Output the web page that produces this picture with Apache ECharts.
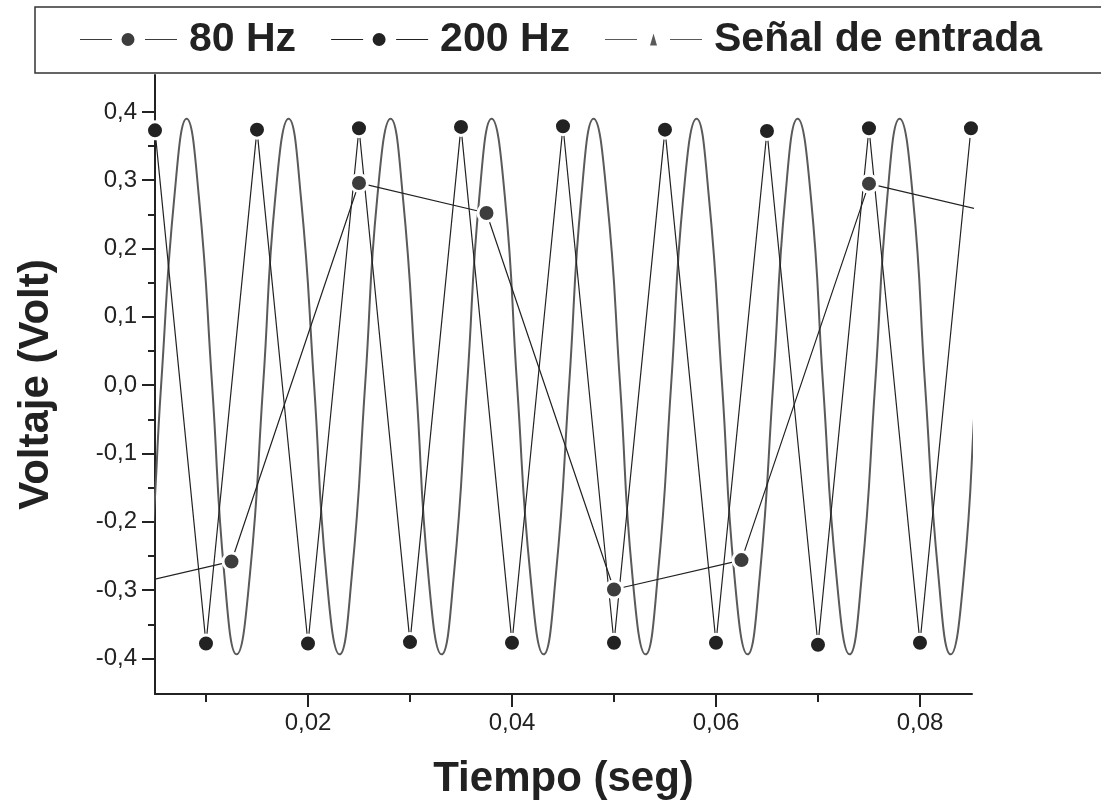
<!DOCTYPE html>
<html>
<head>
<meta charset="utf-8">
<script src="https://cdn.jsdelivr.net/npm/echarts@6/dist/echarts.min.js"></script>
<style>
  html, body { margin: 0; padding: 0; background: #fff; }
  #chart { width: 1101px; height: 810px; }
</style>
</head>
<body>
<div id="chart"></div>
<script>
// 80 Hz sampled points
const time80 = [0, 0.0125, 0.025, 0.0375, 0.05, 0.0625, 0.075, 0.0875];
const volt80 = [-0.301, -0.258, 0.296, 0.252, -0.299, -0.256, 0.295, 0.251];

// 200 Hz sampled points
const time200 = [0.005, 0.01, 0.015, 0.02, 0.025, 0.03, 0.035, 0.04, 0.045,
  0.05, 0.055, 0.06, 0.065, 0.07, 0.075, 0.08, 0.085];
const volt200 = [0.373, -0.378, 0.374, -0.378, 0.376, -0.376, 0.378, -0.377, 0.379,
  -0.377, 0.374, -0.377, 0.372, -0.380, 0.376, -0.377, 0.376];

// input signal (peaks, troughs, crossings and in-between points)
const timeIn = [
  0.0031, 0.0044, 0.0056, 0.0069, 0.0081, 0.0093, 0.0106, 0.0118,
  0.0130, 0.0143, 0.0156, 0.0168, 0.0181, 0.0193, 0.0206, 0.0218,
  0.0231, 0.0243, 0.0256, 0.0268, 0.0281, 0.0293, 0.0306, 0.0318,
  0.0331, 0.0343, 0.0356, 0.0368, 0.0380, 0.0393, 0.0405, 0.0418,
  0.0431, 0.0443, 0.0456, 0.0468, 0.0480, 0.0493, 0.0506, 0.0518,
  0.0531, 0.0543, 0.0556, 0.0568, 0.0581, 0.0593, 0.0606, 0.0618,
  0.0631, 0.0643, 0.0656, 0.0668, 0.0680, 0.0693, 0.0705, 0.0718,
  0.0731, 0.0743, 0.0756, 0.0768, 0.0780, 0.0793, 0.0805, 0.0818,
  0.0830, 0.0843, 0.0855, 0.0868, 0.0880
];
const voltIn = [
  -0.394, -0.278, 0, 0.276, 0.390, 0.276, 0, -0.278,
  -0.394, -0.278, 0, 0.276, 0.390, 0.276, 0, -0.278,
  -0.394, -0.278, 0, 0.276, 0.390, 0.276, 0, -0.278,
  -0.394, -0.278, 0, 0.276, 0.390, 0.276, 0, -0.278,
  -0.394, -0.278, 0, 0.276, 0.390, 0.276, 0, -0.278,
  -0.394, -0.278, 0, 0.276, 0.390, 0.276, 0, -0.278,
  -0.394, -0.278, 0, 0.276, 0.390, 0.276, 0, -0.278,
  -0.394, -0.278, 0, 0.276, 0.390, 0.276, 0, -0.278,
  -0.394, -0.278, 0, 0.276, 0.390
];

// ticks
const xMajor = [0.02, 0.04, 0.06, 0.08];
const xLabels = ['0,02', '0,04', '0,06', '0,08'];
const xMinor = [0.01, 0.03, 0.05, 0.07];
const yMajor = [-0.4, -0.3, -0.2, -0.1, 0, 0.1, 0.2, 0.3, 0.4];
const yLabels = ['-0,4', '-0,3', '-0,2', '-0,1', '0,0', '0,1', '0,2', '0,3', '0,4'];
const yMinor = [-0.35, -0.25, -0.15, -0.05, 0.05, 0.15, 0.25, 0.35];

const legendNames = ['80 Hz', '200 Hz', 'Señal de entrada'];

const pairs = (xs, ys) => xs.map((x, i) => [x, ys[i]]);
const labelOf = (vals, labels) => (v) => {
  const i = vals.findIndex(t => Math.abs(t - v) < 1e-9);
  return i < 0 ? '' : labels[i];
};

const font = 'Liberation Sans, Arial, sans-serif';
const ink = '#222';
const dotIcon = 'path://M0,6.5L32,6.5L32,7.5L0,7.5Z M65,6.5L97,6.5L97,7.5L65,7.5Z M54.5,7A6.5,6.5 0 1 1 41.5,7A6.5,6.5 0 1 1 54.5,7Z';
const triIcon = 'path://M0,6.5L32,6.5L32,7.5L0,7.5Z M65,6.5L97,6.5L97,7.5L65,7.5Z M48.5,1L52,13L45,13Z';
const noBorder = { borderWidth: 0 };

const chart = echarts.init(document.getElementById('chart'));
const xRange = { min: 0.005, max: 0.0851 };
const yRange = { min: -0.452, max: 0.454 };

chart.setOption({
  animation: false,
  backgroundColor: '#fff',
  textStyle: { fontFamily: font },
  grid: { left: 155, right: 129, top: 75, bottom: 116 },
  graphic: [{
    type: 'rect',
    shape: { x: 35, y: 7, width: 1100, height: 66 },
    style: { fill: 'transparent', stroke: '#333', lineWidth: 1.5 }
  }],
  legend: {
    left: 80,
    top: 19,
    padding: 0,
    itemWidth: 97,
    itemHeight: 13,
    itemGap: 35,
    itemStyle: noBorder,
    textStyle: { fontSize: 41, fontWeight: 'bold', color: ink, fontFamily: font, padding: [0, 0, 0, 7] },
    data: [
      { name: legendNames[0], icon: dotIcon, itemStyle: noBorder },
      { name: legendNames[1], icon: dotIcon, itemStyle: noBorder },
      { name: legendNames[2], icon: triIcon, itemStyle: noBorder }
    ]
  },
  xAxis: [{
    type: 'value',
    min: xRange.min,
    max: xRange.max,
    name: 'Tiempo (seg)',
    nameLocation: 'middle',
    nameGap: 64,
    nameTextStyle: { fontSize: 42, fontWeight: 'bold', color: ink, fontFamily: font },
    axisLine: { onZero: false, lineStyle: { color: ink, width: 2 } },
    axisTick: { customValues: xMajor, length: 13, lineStyle: { color: ink, width: 2 } },
    axisLabel: {
      customValues: xMajor, formatter: labelOf(xMajor, xLabels),
      fontSize: 24, color: ink, margin: 17, fontFamily: font
    },
    splitLine: { show: false }
  }, {
    type: 'value',
    position: 'bottom',
    offset: 0,
    min: xRange.min,
    max: xRange.max,
    axisLine: { show: false, onZero: false },
    axisTick: { customValues: xMinor, length: 8, lineStyle: { color: ink, width: 2 } },
    axisLabel: { show: false },
    splitLine: { show: false }
  }],
  yAxis: [{
    type: 'value',
    min: yRange.min,
    max: yRange.max,
    name: 'Voltaje (Volt)',
    nameLocation: 'middle',
    nameGap: 98,
    nameRotate: 90,
    nameTextStyle: { fontSize: 42, fontWeight: 'bold', color: ink, fontFamily: font },
    axisLine: { onZero: false, lineStyle: { color: ink, width: 2 } },
    axisTick: { customValues: yMajor, length: 13, lineStyle: { color: ink, width: 2 } },
    axisLabel: {
      customValues: yMajor, formatter: labelOf(yMajor, yLabels),
      fontSize: 24, color: ink, margin: 18, fontFamily: font
    },
    splitLine: { show: false }
  }, {
    type: 'value',
    position: 'left',
    offset: 0,
    min: yRange.min,
    max: yRange.max,
    axisLine: { show: false, onZero: false },
    axisTick: { customValues: yMinor, length: 7, lineStyle: { color: ink, width: 2 } },
    axisLabel: { show: false },
    splitLine: { show: false }
  }],
  series: [{
    name: legendNames[2],
    type: 'line',
    color: '#5a5a5a',
    data: pairs(timeIn, voltIn),
    smooth: 0.5,
    showSymbol: false,
    symbol: 'none',
    lineStyle: { color: '#5a5a5a', width: 2 }
  }, {
    name: legendNames[1],
    type: 'line',
    color: '#222',
    data: pairs(time200, volt200),
    symbol: 'circle',
    symbolSize: 17,
    itemStyle: { color: '#222', borderColor: '#fff', borderWidth: 3 },
    lineStyle: { color: '#222', width: 1.2 }
  }, {
    name: legendNames[0],
    type: 'line',
    color: '#3d3d3d',
    data: pairs(time80, volt80),
    symbol: 'circle',
    symbolSize: 17,
    itemStyle: { color: '#3d3d3d', borderColor: '#fff', borderWidth: 3 },
    lineStyle: { color: '#222', width: 1.2 }
  }]
});
</script>
</body>
</html>
